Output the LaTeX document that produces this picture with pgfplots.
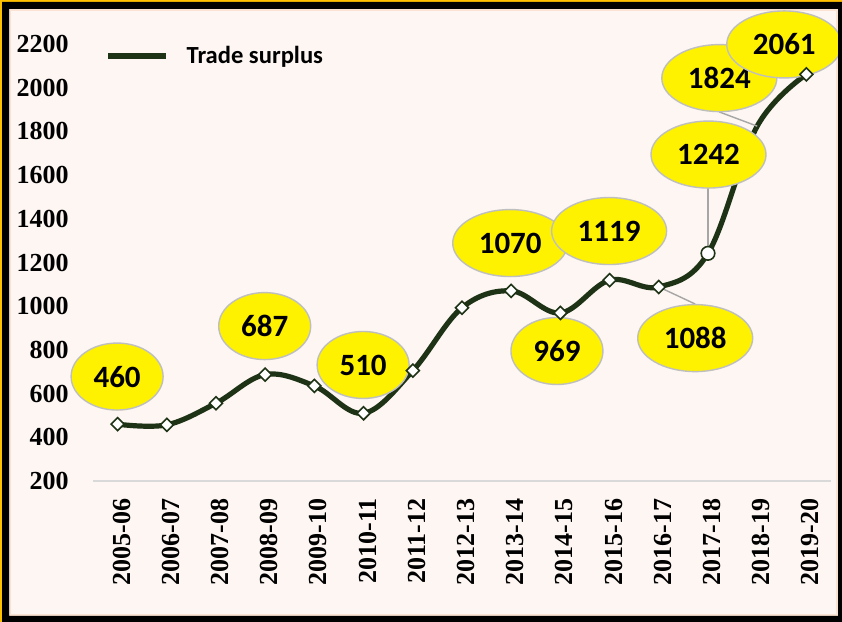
\documentclass[border=0pt]{standalone}
\usepackage{pgfplots}
\pgfplotsset{compat=1.18}
\usepackage{fontspec}
\setmainfont{Liberation Serif}
\newfontfamily\calibri{Carlito}
\usetikzlibrary{shapes.geometric}
\definecolor{bg}{HTML}{FDF6F2}
\definecolor{frameor}{HTML}{FFC000}
\definecolor{lg}{HTML}{1E3216}
\definecolor{peach}{HTML}{FBE3D3}
\definecolor{lead}{HTML}{A6A6A6}
\begin{document}
\begin{tikzpicture}
\useasboundingbox (0,0) rectangle (421pt,311pt);
\fill[frameor] (0,0) rectangle (421pt,311pt);
\fill[bg] (4.5pt,3pt) rectangle (419pt,306.5pt);
\draw[peach,line width=1pt] (5pt,3.5pt) rectangle (418.5pt,306pt);
\tikzset{lab/.style={ellipse, fill=yellow, draw=black!25, line width=0.7pt, inner sep=0pt, minimum height=33.5pt, font=\calibri\bfseries\fontsize{15.5}{15.5}\selectfont},
 lab3/.style={lab, minimum width=46pt}, lab4/.style={lab, minimum width=57.5pt}}
\begin{axis}[at={(46.5pt,70.5pt)}, anchor=south west, scale only axis,
 width=369pt, height=218.5pt,
 xmin=-0.5, xmax=14.5, ymin=200, ymax=2200, clip=false,
 axis x line*=bottom, axis y line*=left,
 y axis line style={draw=none},
 x axis line style={draw=black!15, line width=0.8pt, -},
 major tick length=0pt,
 xtick={0,...,14},
 xticklabels={2005-06,2006-07,2007-08,2008-09,2009-10,2010-11,2011-12,2012-13,2013-14,2014-15,2015-16,2016-17,2017-18,2018-19,2019-20},
 ytick={200,400,...,2200},
 scaled y ticks=false,
 /pgf/number format/1000 sep={},
 /pgf/number format/assume math mode=true,
 ticklabel style={font=\fontsize{13}{13}\selectfont\bfseries},
 yticklabel style={anchor=east, inner sep=0pt, xshift=-12pt},
 xticklabel style={rotate=90, anchor=east, inner sep=0pt, xshift=-8.5pt, yshift=-2pt},
 legend style={at={(rel axis cs:0.016,0.9725)}, anchor=west, draw=none, fill=none, inner sep=0pt,
   font=\calibri\bfseries\fontsize{12.3}{12.3}\selectfont, nodes={inner sep=0pt},
   /tikz/every odd column/.append style={column sep=8.5pt}},
 legend cell align=left,
 legend image code/.code={\draw[lg, line width=3.2pt] (0pt,0pt) -- (29pt,0pt);},
 ]
\addplot[lg, line width=2.6pt, smooth, tension=0.6, no markers] coordinates {
 (0,460)(1,457)(2,556)(3,687)(4,635)(5,510)(6,705)(7,993)(8,1070)(9,969)(10,1119)(11,1088)(12,1242)(13,1824)(14,2061)};
\addlegendentry{Trade surplus}
\draw[lead, line width=0.7pt] (axis cs:11,1088) -- (axis cs:11.74,1010);
\draw[lead, line width=0.7pt] (axis cs:12,1242) -- (axis cs:12,1694);
\draw[lead, line width=0.7pt] (axis cs:13,1824) -- (axis cs:12.23,1889);
\addplot[only marks, mark=square*, mark size=2.3pt, mark options={rotate=45, fill=white, draw=lg, line width=0.8pt}, forget plot] coordinates {
 (0,460)(1,457)(2,556)(3,687)(4,635)(5,510)(6,705)(7,993)(8,1070)(9,969)(10,1119)(11,1088)(14,2061)};
\addplot[only marks, mark=*, mark size=3.4pt, mark options={fill=white, draw=lg, line width=0.8pt}, forget plot] coordinates {(12,1242)};
\node[lab3] at (axis cs:-0.01,678) {460};
\node[lab3] at (axis cs:2.99,909) {687};
\node[lab3] at (axis cs:4.99,731) {510};
\node[lab4] at (axis cs:7.98,1289) {1070};
\node[lab3] at (axis cs:8.93,795) {969};
\node[lab4] at (axis cs:9.99,1344) {1119};
\node[lab4] at (axis cs:11.74,854) {1088};
\node[lab4] at (axis cs:12.01,1694) {1242};
\node[lab4] at (axis cs:12.23,2044) {1824};
\node[lab4] at (axis cs:13.55,2198) {2061};
\end{axis}
\fill[black, even odd rule] (1pt,0) rectangle (421pt,310pt) (4.5pt,3pt) rectangle (419pt,306.5pt);
\end{tikzpicture}
\end{document}
